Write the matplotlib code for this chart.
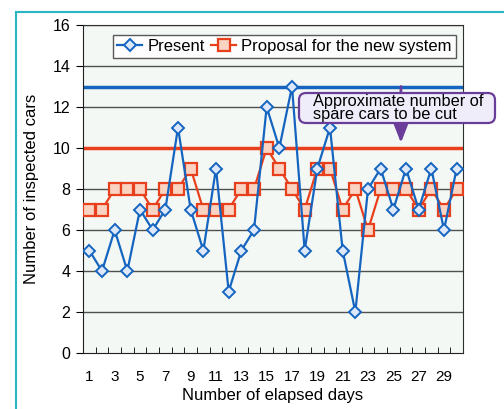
import matplotlib
matplotlib.use("Agg")
import matplotlib.pyplot as plt
from matplotlib.lines import Line2D
from matplotlib.patches import FancyBboxPatch
from matplotlib.transforms import IdentityTransform

plt.rcParams['font.family'] = ['Liberation Sans', 'DejaVu Sans']

days = list(range(1, 31))
present = [5, 4, 6, 4, 7, 6, 7, 11, 7, 5, 9, 3, 5, 6, 12, 10, 13, 5, 9, 11,
           5, 2, 8, 9, 7, 9, 7, 9, 6, 9]
proposal = [7, 7, 8, 8, 8, 7, 8, 8, 9, 7, 7, 7, 8, 8, 10, 9, 8, 7, 9, 9,
            7, 8, 6, 8, 8, 8, 7, 8, 7, 8]
present_max = 13
proposal_max = 10
xtick_labels = [str(d) for d in range(1, 31, 2)]

blue = '#1565c0'
red = '#e8401c'
purple = '#6a3d9a'

fig = plt.figure(figsize=(5.04, 4.09), dpi=100)
ax = fig.add_axes([83 / 504, 1 - 353 / 409, 380 / 504, 328 / 409])
ax.set_facecolor('#f4f8f4')

# grid
for y in range(2, 17, 2):
    ax.axhline(y, color='#505050', lw=1.0, zorder=1)

ax.axhline(present_max, color=blue, lw=2.5, zorder=2)
ax.axhline(proposal_max, color=red, lw=2.5, zorder=2)

ax.plot(days, present, color=blue, lw=1.6, marker='D', markersize=6,
        markerfacecolor='#dde8fa', markeredgecolor=blue, markeredgewidth=1.4,
        label='Present', zorder=4)
ax.plot(days, proposal, color=red, lw=1.6, marker='s', markersize=8,
        markerfacecolor='#fbd3c2', markeredgecolor=red, markeredgewidth=1.6,
        label='Proposal for the new system', zorder=3)

ax.set_xlim(0.5, 30.5)
ax.set_ylim(0, 16)
ax.set_yticks(range(0, 17, 2))
ax.set_xticks(range(1, 31, 2))
ax.set_xticklabels(xtick_labels)
ax.set_xticks([d + 0.5 for d in range(0, 31)], minor=True)
ax.tick_params(axis='x', which='major', length=0, labelsize=11, pad=12)
ax.tick_params(axis='x', which='minor', length=4, direction='in')
ax.tick_params(axis='y', length=5, direction='out', labelsize=11.5, pad=4)

for s in ['top', 'right']:
    ax.spines[s].set_color('#303030')
ax.spines['left'].set_color('#202020')
ax.spines['bottom'].set_color('#202020')

ax.set_xlabel('Number of elapsed days', fontsize=12, labelpad=3)
ax.set_ylabel('Number of inspected cars', fontsize=12, labelpad=10)

leg = ax.legend(loc='upper right', ncol=2, fontsize=12, frameon=True,
                fancybox=False, edgecolor='#303030', borderpad=0.25,
                handlelength=1.5, handletextpad=0.3, columnspacing=0.4,
                borderaxespad=0.3, bbox_to_anchor=(0.995, 0.985))
leg.get_frame().set_linewidth(1.0)
leg.get_frame().set_facecolor('white')

# arrow: spare cars
ax.annotate('', xy=(25.6, proposal_max + 0.25), xytext=(25.6, present_max),
            arrowprops=dict(arrowstyle='-|>,head_length=0.9,head_width=0.35',
                            color=purple, lw=2,
                            mutation_scale=14, shrinkA=0, shrinkB=0),
            zorder=5)

# callout box (pixel coords)
box = FancyBboxPatch((299, 286), 196, 30,
                     boxstyle='round,pad=0,rounding_size=7',
                     facecolor='#efedfa', edgecolor=purple, lw=1.6,
                     transform=IdentityTransform(), zorder=6)
fig.add_artist(box)
fig.text(313, 301, 'Approximate number of\nspare cars to be cut',
         fontsize=11.8, ha='left', va='center', linespacing=0.88,
         transform=IdentityTransform(), zorder=7)

# outer frame
fig.add_artist(Line2D([16 / 504, 16 / 504], [0, 1 - 12 / 409],
                      color='#2bb5c0', lw=1.5))
fig.add_artist(Line2D([16 / 504, 503 / 504], [1 - 12 / 409, 1 - 12 / 409],
                      color='#2bb5c0', lw=1.5))

fig.savefig('out.png', dpi=100)
